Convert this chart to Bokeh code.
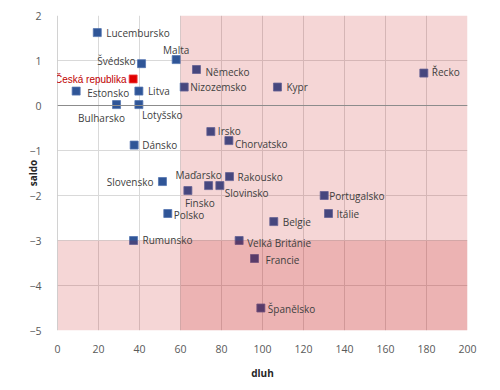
from bokeh.plotting import figure
from bokeh.models import ColumnDataSource, Span, Range1d, FixedTicker, Label
from bokeh.embed import file_html
from bokeh.resources import INLINE
try:
    from bokeh.models import HTMLLabel
except ImportError:
    HTMLLabel = None

countries = ["Lucembursko", "Malta", "Švédsko", "Česká republika", "Estonsko", "Litva",
             "Bulharsko", "Lotyšsko", "Dánsko", "Německo", "Nizozemsko", "Irsko",
             "Chorvatsko", "Slovensko", "Maďarsko", "Rakousko", "Slovinsko", "Finsko",
             "Polsko", "Rumunsko", "Velká Británie", "Francie", "Španělsko", "Belgie",
             "Itálie", "Portugalsko", "Kypr", "Řecko"]
dluh = [19.4, 57.9, 41.0, 36.9, 9.1, 39.7, 28.8, 39.7, 37.4, 67.8, 61.8, 74.8,
        83.6, 51.2, 73.7, 83.9, 79.2, 63.6, 53.8, 37.1, 88.6, 96.1, 99.2, 105.5,
        132.2, 130.1, 107.3, 178.7]
saldo = [1.62, 1.02, 0.93, 0.59, 0.32, 0.32, 0.02, 0.02, -0.88, 0.80, 0.41, -0.58,
         -0.78, -1.69, -1.78, -1.58, -1.78, -1.89, -2.40, -3.00, -3.00, -3.40, -4.50, -2.58,
         -2.40, -2.00, 0.41, 0.72]
debt_limit = 60
deficit_limit = -3
x_ticks = [0, 20, 40, 60, 80, 100, 120, 140, 160, 180, 200]
y_ticks = [-5, -4, -3, -2, -1, 0, 1, 2]
x_title = "dluh"
y_title = "saldo"

# label styling (screen-pixel offsets, +y = down) and alignment, per country
label_style = {
    "Lucembursko": (9, 0, "left"), "Malta": (0, -10, "center"), "Švédsko": (-6, -3, "right"),
    "Česká republika": (-6, 1, "right"), "Estonsko": (11, 2, "left"), "Litva": (9, 0, "left"),
    "Bulharsko": (-15, 13, "center"), "Lotyšsko": (3, 10, "left"), "Dánsko": (8, 0, "left"),
    "Německo": (9, 2, "left"), "Nizozemsko": (6, 0, "left"), "Irsko": (7, -1, "left"),
    "Chorvatsko": (6, 3, "left"), "Slovensko": (-9, 0, "right"), "Maďarsko": (-10, -11, "center"),
    "Rakousko": (8, 0, "left"), "Slovinsko": (5, 7, "left"), "Finsko": (-3, 12, "left"),
    "Polsko": (6, 1, "left"), "Rumunsko": (9, -1, "left"), "Velká Británie": (8, 2, "left"),
    "Francie": (11, 1, "left"), "Španělsko": (7, 1, "left"), "Belgie": (9, 0, "left"),
    "Itálie": (8, 0, "left"), "Portugalsko": (5, 0, "left"), "Kypr": (9, 0, "left"),
    "Řecko": (8, -1, "left"),
}
highlight = "Česká republika"

xmin, xmax, ymin, ymax = x_ticks[0], x_ticks[-1], y_ticks[0], y_ticks[-1]

p = figure(output_backend="svg", toolbar_location=None,
           x_range=Range1d(xmin, xmax), y_range=Range1d(ymin, ymax),
           frame_width=410, frame_height=315,
           min_border_left=57, min_border_right=20, min_border_top=15, min_border_bottom=55)
p.outline_line_color = None
p.background_fill_color = "white"

for ax in (p.xaxis, p.yaxis):
    ax.axis_line_color = None
    ax.major_tick_line_color = None
    ax.minor_tick_line_color = None
    ax.major_label_text_font = "Open Sans"
    ax.major_label_text_font_size = "10.5px"
    ax.major_label_text_color = "#595959"
    ax.axis_label_text_font = "Open Sans"
    ax.axis_label_text_font_size = "10px"
    ax.axis_label_text_font_style = "bold"
    ax.axis_label_text_color = "#262626"
p.xaxis.ticker = FixedTicker(ticks=x_ticks)
p.yaxis.ticker = FixedTicker(ticks=y_ticks)
p.xaxis.axis_label = x_title
p.yaxis.axis_label = y_title
p.xaxis.major_label_standoff = 8
p.yaxis.major_label_standoff = 10
p.xaxis.axis_label_standoff = 10
p.yaxis.axis_label_standoff = -14
p.grid.grid_line_color = "#d9d9d9"
p.grid.grid_line_width = 1

p.add_layout(Span(location=0, dimension="width", line_color="#8c8c8c", line_width=1))
p.add_layout(Span(location=0, dimension="height", line_color="#a6a6a6", line_width=1))

others = [i for i, c in enumerate(countries) if c != highlight]
hi = [i for i, c in enumerate(countries) if c == highlight]

src = ColumnDataSource(dict(x=[dluh[i] for i in others], y=[saldo[i] for i in others]))
p.scatter("x", "y", source=src, marker="square", size=8, fill_color="#2F5597",
          line_color="#5475b0", line_width=0.8)
src_h = ColumnDataSource(dict(x=[dluh[i] for i in hi], y=[saldo[i] for i in hi]))
p.scatter("x", "y", source=src_h, marker="square", size=8, fill_color="#E00000",
          line_color="#f04040", line_width=0.8)

# shaded zones (criteria breaches)
p.quad(left=[debt_limit], right=[xmax], bottom=[ymin], top=[ymax],
       fill_color="#C00000", fill_alpha=0.16, line_color=None)
p.quad(left=[xmin], right=[xmax], bottom=[ymin], top=[deficit_limit],
       fill_color="#C00000", fill_alpha=0.16, line_color=None)

for i, c in enumerate(countries):
    xo, yo, align = label_style[c]
    cls = HTMLLabel if (c == highlight and HTMLLabel is not None) else Label
    p.add_layout(cls(x=dluh[i], y=saldo[i], text=c, x_offset=xo, y_offset=-yo,
                     text_align=align, text_baseline="middle",
                     text_color="#C00000" if c == highlight else "#404040",
                     text_font="Open Sans", text_font_size="10px"))

open("out.html", "w").write(file_html(p, INLINE))
